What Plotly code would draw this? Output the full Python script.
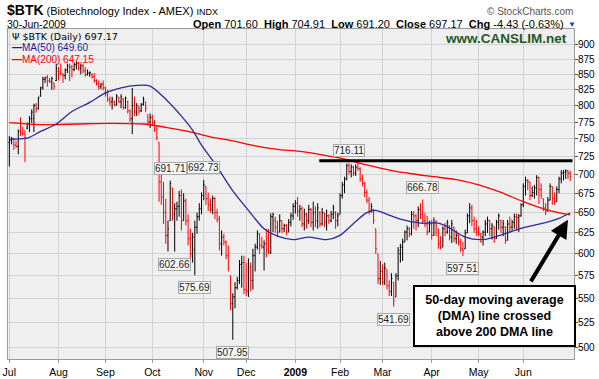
import math
import plotly.graph_objects as go

# ---------------- data ----------------
month_labels = ['Jul', 'Aug', 'Sep', 'Oct', 'Nov', 'Dec', '<b>2009</b>', 'Feb', 'Mar', 'Apr', 'May', 'Jun']
month_start_idx = [0, 22, 43, 64, 87, 106, 128, 148, 167, 189, 210, 230]
price_ticks = [500, 525, 550, 575, 600, 625, 650, 675, 700, 725, 750, 775, 800, 825, 850, 875, 900]

opens = [
    # Jul 2008
    745, 748, 750, 741, 739, 761, 758, 757, 766, 772, 780, 780, 800, 795, 815, 828, 842, 845, 840, 838, 836, 840,
    # Aug
    855, 852, 850, 848, 857, 864, 862, 858, 866, 868, 860, 864, 856, 850, 852, 850, 846, 840, 834, 830, 834,
    # Sep
    828, 818, 810, 806, 806, 801, 812, 806, 810, 797, 806, 792, 780, 800, 790, 796, 792, 802, 806, 786, 775,
    # Oct
    782, 774, 764, 745, 690, 670, 650, 622, 640, 682, 648, 655, 658, 672, 640, 665, 640, 618, 600, 605, 632, 645, 655,
    # Nov
    672, 684, 668, 660, 654, 668, 650, 642, 612, 620, 614, 598, 575, 545, 552, 562, 570, 588, 590,
    # Dec
    560, 558, 585, 570, 598, 608, 624, 610, 608, 612, 620, 602, 645, 640, 632, 626, 640, 630, 634, 626, 638, 646,
    # Jan 2009
    658, 662, 652, 655, 636, 648, 640, 654, 638, 650, 640, 650, 636, 650, 638, 646, 640, 648, 650, 640,
    # Feb
    648, 672, 686, 694, 712, 704, 710, 702, 710, 708, 694, 688, 676, 666, 652, 654, 630, 600, 572,
    # Mar
    580, 568, 582, 564, 558, 568, 552, 575, 600, 608, 614, 626, 630, 624, 648, 646, 640, 654, 648, 640, 636, 626,
    # Apr
    636, 622, 638, 630, 612, 608, 630, 626, 634, 620, 632, 618, 622, 614, 606, 606, 625, 646, 656, 640, 630,
    # May
    626, 624, 620, 626, 636, 640, 630, 632, 618, 638, 640, 632, 632, 616, 636, 632, 638, 645, 644, 646,
    # Jun
    660, 684, 692, 690, 672, 676, 682, 696, 680, 668, 656, 652, 666, 684, 668, 664, 680, 694, 702, 703, 705, 701.60,
]
highs = [
    754, 753, 751, 747, 764, 782, 768, 763, 774, 784, 794, 803, 804, 814, 830, 846, 846, 849, 844, 846, 836, 868,
    862, 868, 852, 860, 868, 868, 866, 870, 872, 871, 868, 868, 862, 858, 855, 852, 852, 842, 840, 836, 840,
    830, 825, 814, 814, 808, 818, 814, 818, 812, 814, 808, 794, 828, 814, 804, 800, 804, 814, 806, 786, 788,
    786, 778, 768, 745, 702, 690, 668, 640, 691.71, 682, 662, 664, 678, 680, 675, 668, 648, 630, 625, 640, 650, 662, 676,
    692.73, 684, 676, 668, 672, 670, 655, 646, 628, 624, 616, 610, 575, 556, 568, 574, 593, 598, 598,
    590, 595, 590, 606, 612, 628, 624, 620, 616, 630, 630, 649, 650, 645, 640, 648, 640, 636, 636, 642, 650, 662,
    666, 670, 660, 658, 655, 650, 660, 656, 664, 658, 662, 652, 656, 650, 654, 648, 652, 660, 652, 650,
    675, 690, 697, 715, 716.11, 714, 712, 714, 716, 710, 700, 690, 680, 670, 662, 655, 630, 600, 592,
    588, 590, 582, 570, 578, 568, 578, 608, 612, 618, 628, 634, 632, 652, 652, 648, 658, 662, 666.78, 650, 646, 640,
    641, 644, 641, 630, 621, 633, 637, 641, 634, 641, 632, 628, 625, 618, 614, 629, 649, 662, 660, 645, 641,
    633, 625, 628, 641, 645, 641, 637, 633, 641, 649, 641, 641, 633, 641, 645, 641, 649, 649, 648, 662,
    688, 697, 694, 690, 684, 686, 699, 697, 688, 668, 662, 670, 688, 684, 676, 684, 697, 706, 706, 707, 706, 704.91,
]
lows = [
    711, 742, 734, 737, 728, 754, 755, 717, 764, 760, 774, 760, 789, 794, 814, 825, 836, 830, 836, 825, 825, 839,
    840, 848, 836, 842, 852, 839, 845, 855, 858, 856, 850, 852, 846, 848, 846, 843, 836, 832, 825, 826, 824,
    814, 806, 800, 794, 799, 800, 804, 796, 794, 795, 788, 775, 757, 784, 784, 786, 790, 800, 790, 770, 766,
    770, 760, 748, 664, 660, 636, 612, 603, 640, 640, 602.66, 640, 645, 628, 640, 634, 610, 594, 590, 575.69, 624, 640, 648,
    666, 660, 652, 650, 648, 642, 638, 604, 598, 610, 594, 580, 538, 507.95, 540, 560, 566, 562, 555,
    553, 552, 558, 560, 580, 605, 600, 606, 581, 596, 600, 600, 626, 625, 620, 626, 625, 626, 622, 626, 633, 641,
    649, 645, 640, 632, 628, 630, 636, 632, 628, 632, 630, 632, 634, 632, 628, 636, 638, 642, 630, 633,
    648, 668, 675, 692, 700, 696, 698, 698, 705, 690, 684, 670, 662, 648, 650, 636, 600, 566, 565,
    565, 565, 560, 553, 553, 541.69, 552, 570, 590, 592, 614, 616, 620, 622, 630, 628, 632, 642, 636, 632, 622, 626,
    617, 622, 621, 606, 605, 608, 621, 624, 616, 613, 614, 612, 610, 602, 597.51, 606, 625, 637, 633, 625, 621,
    621, 613, 610, 621, 625, 621, 617, 613, 618, 629, 625, 621, 612, 616, 625, 628, 630, 628, 626, 645,
    657, 672, 679, 666, 670, 668, 672, 661, 668, 652, 647, 652, 666, 660, 660, 664, 675, 688, 692, 694, 694, 691.20,
]
closes = [
    748, 750, 741, 739, 761, 758, 757, 752, 772, 780, 790, 800, 795, 812, 828, 842, 845, 840, 838, 843, 830, 860,
    855, 852, 848, 857, 864, 862, 858, 866, 868, 860, 864, 856, 850, 852, 853, 846, 840, 834, 830, 834, 828,
    818, 810, 806, 810, 801, 815, 806, 814, 797, 812, 792, 780, 800, 790, 800, 792, 802, 810, 796, 775, 782,
    774, 764, 752, 690, 670, 650, 622, 630, 688, 648, 655, 658, 672, 640, 665, 640, 618, 600, 620, 632, 645, 655, 672,
    686, 668, 660, 654, 668, 650, 642, 612, 620, 614, 598, 585, 545, 552, 562, 570, 588, 590, 560,
    558, 585, 570, 598, 608, 624, 610, 608, 612, 605, 602, 645, 648, 632, 626, 640, 630, 634, 626, 638, 646, 658,
    662, 652, 655, 636, 648, 640, 654, 638, 650, 640, 656, 636, 650, 638, 646, 640, 648, 656, 640, 646,
    672, 686, 694, 712, 704, 710, 702, 710, 708, 694, 688, 676, 666, 652, 658, 640, 606, 572, 580,
    568, 584, 564, 558, 572, 548, 575, 604, 608, 614, 626, 630, 624, 648, 646, 640, 654, 648, 640, 636, 626, 636,
    622, 638, 634, 612, 608, 630, 626, 638, 620, 636, 618, 622, 614, 606, 604, 625, 646, 656, 640, 630, 626,
    624, 620, 626, 636, 640, 630, 634, 618, 638, 646, 632, 636, 616, 636, 632, 638, 645, 644, 646, 660,
    684, 692, 690, 672, 676, 682, 696, 680, 672, 656, 652, 666, 684, 668, 664, 680, 694, 702, 703, 705, 701.60, 697.17,
]

ma50_idx = [0, 8, 14, 21, 28, 36, 43, 50, 57, 63, 70, 77, 82, 86, 92, 100, 107, 114, 120, 127, 134, 142,
            148, 155, 160, 164, 169, 175, 184, 192, 197, 204, 212, 217, 224, 231, 239, 246, 251]
ma50_val = [750, 751, 761, 772, 791, 805, 820, 828, 832, 831, 810, 784, 763, 741, 715, 678, 653, 630, 621, 617, 620, 617,
            622, 639, 650, 653, 648, 642, 637, 637, 631, 620, 617, 620, 626, 632, 637, 643, 649.60]
ma200_idx = [0, 15, 30, 45, 60, 70, 80, 90, 100, 110, 120, 130, 140, 150, 160, 170, 180, 190, 200, 210, 220, 230, 240, 251]
ma200_val = [774, 771, 772, 773, 772, 767, 761, 753, 747, 740, 735, 732, 727, 721, 713, 706, 701, 697, 693, 686, 676, 664, 654, 647.15]

resistance_level = 719
resistance_from_idx = 138.7

value_labels = [  # (trading-day index, value, where)
    (72, 691.71, 'high'), (87, 692.73, 'high'), (74, 602.66, 'low'), (83, 575.69, 'low'),
    (100, 507.95, 'low'), (152, 716.11, 'high'), (172, 541.69, 'low'), (185, 666.78, 'high'),
    (203, 597.51, 'low'),
]

# ---------------- figure ----------------
FONT = 'Liberation Sans, Arial, sans-serif'
W, H = 599, 379
PL, PR, PT, PB = 8, 574, 29, 359


def px(x):
    return (x - PL) / (PR - PL)


def py(y):
    return (PB - y) / (PB - PT)


n = len(closes)
up, dn = [], []
for i in range(n):
    prev = closes[i - 1] if i > 0 else opens[i]
    (up if closes[i] >= prev else dn).append(i)

fig = go.Figure()
for idxs, col in ((up, '#000000'), (dn, '#ff0000')):
    fig.add_trace(go.Ohlc(
        x=idxs,
        open=[opens[i] for i in idxs], high=[highs[i] for i in idxs],
        low=[lows[i] for i in idxs], close=[closes[i] for i in idxs],
        increasing=dict(line=dict(color=col, width=1)),
        decreasing=dict(line=dict(color=col, width=1)),
        tickwidth=0.45, hoverinfo='skip', showlegend=False,
    ))

fig.add_trace(go.Scatter(x=ma200_idx, y=ma200_val, mode='lines',
                         line=dict(color='#ff0000', width=1.3, shape='spline', smoothing=0.8),
                         hoverinfo='skip', showlegend=False))
fig.add_trace(go.Scatter(x=ma50_idx, y=ma50_val, mode='lines',
                         line=dict(color='#2b2b9a', width=1.3, shape='spline', smoothing=0.8),
                         hoverinfo='skip', showlegend=False))
fig.add_trace(go.Scatter(x=[resistance_from_idx, 252], y=[resistance_level, resistance_level], mode='lines',
                         line=dict(color='#000000', width=3), hoverinfo='skip', showlegend=False))

ann = []
for i, v, where in value_labels:
    ann.append(dict(x=i, y=math.log10(v), xref='x', yref='y', text=f'{v:.2f}', showarrow=False,
                    font=dict(family=FONT, size=10, color='#222222'),
                    bgcolor='#f6f6f6', bordercolor='#a8a8a8', borderwidth=1, borderpad=0,
                    yanchor='bottom' if where == 'high' else 'top',
                    yshift=6 if where == 'high' else -6))

# right-hand price labels (placed just outside the plot frame)
for t in price_ticks:
    ann.append(dict(x=px(576), y=math.log10(t), xref='paper', yref='y', xanchor='left', yanchor='middle',
                    text=str(t), showarrow=False, font=dict(family=FONT, size=10, color='#000')))

# header texts
ann += [
    dict(x=px(5), y=py(10.5), xref='paper', yref='paper', xanchor='left', yanchor='middle', showarrow=False,
         text='<span style="font-size:14px"><b>$BTK</b></span> (Biotechnology Index - AMEX) '
              '<span style="font-size:9px">INDX</span>',
         font=dict(family=FONT, size=11, color='#000')),
    dict(x=px(5), y=py(24.5), xref='paper', yref='paper', xanchor='left', yanchor='middle', showarrow=False,
         text='30-Jun-2009', font=dict(family=FONT, size=10.5, color='#000')),
    dict(x=px(566), y=py(24.5), xref='paper', yref='paper', xanchor='right', yanchor='middle', showarrow=False,
         text='<b>Open</b> 701.60  <b>High</b> 704.91  <b>Low</b> 691.20  <b>Close</b> 697.17  <b>Chg</b> -4.43 (-0.63%)',
         font=dict(family=FONT, size=11, color='#000')),
    dict(x=px(566), y=py(24.5), xref='paper', yref='paper', xanchor='left', yanchor='middle', showarrow=False,
         text='▼', font=dict(family=FONT, size=8, color='#1f3fd0')),
    dict(x=px(575), y=py(11), xref='paper', yref='paper', xanchor='right', yanchor='middle', showarrow=False,
         text='© StockCharts.com', font=dict(family=FONT, size=10, color='#555')),
    dict(x=px(569), y=py(39), xref='paper', yref='paper', xanchor='right', yanchor='middle', showarrow=False,
         text='<b>www.CANSLIM.net</b>', font=dict(family=FONT, size=13.5, color='#1d5a1d')),
    # legend
    dict(x=px(10), y=py(36.5), xref='paper', yref='paper', xanchor='left', yanchor='middle', showarrow=False,
         text='Ψ $BTK (Daily) 697.17', font=dict(family='DejaVu Sans, Verdana, sans-serif', size=9.5, color='#000')),
    dict(x=px(10), y=py(47.5), xref='paper', yref='paper', xanchor='left', yanchor='middle', showarrow=False,
         text='<b>—</b>MA(50) 649.60', font=dict(family=FONT, size=10, color='#1a1a9c')),
    dict(x=px(10), y=py(59), xref='paper', yref='paper', xanchor='left', yanchor='middle', showarrow=False,
         text='<b>—</b>MA(200) 647.15', font=dict(family=FONT, size=10, color='#ff0000')),
    # callout box
    dict(x=px(494.5), y=py(316), xref='paper', yref='paper', xanchor='center', yanchor='middle', showarrow=False,
         text='<b>50-day moving average<br>(DMA) line crossed<br>above 200 DMA line</b>',
         font=dict(family=FONT, size=12.5, color='#000'),
         bgcolor='#ffffff', bordercolor='#000000', borderwidth=2, borderpad=2, width=155, height=54, align='center'),
    # arrow
    dict(x=250, y=math.log10(641), xref='x', yref='y', text='', showarrow=True,
         ax=-38, ay=63, arrowhead=2, arrowsize=0.9, arrowwidth=4, arrowcolor='#000000'),
]

fig.update_layout(
    width=W, height=H,
    margin=dict(l=PL, r=W - PR, t=PT, b=H - PB, pad=0, autoexpand=False),
    paper_bgcolor='#ffffff', plot_bgcolor='#efefef',
    font=dict(family=FONT, size=10, color='#000'),
    showlegend=False,
    annotations=ann,
    xaxis=dict(type='linear', range=[-0.6, 252.7], tickmode='array', tickvals=month_start_idx, ticktext=month_labels,
               showgrid=True, gridcolor='#d2d2d2', gridwidth=1, zeroline=False, automargin=False,
               showline=True, mirror=True, linecolor='#9a9a9a', linewidth=1,
               ticks='outside', ticklen=3, tickcolor='#9a9a9a', tickfont=dict(size=10.5),
               rangeslider=dict(visible=False), fixedrange=True),
    yaxis=dict(type='log', range=[math.log10(489.4), math.log10(928.2)], side='right',
               tickmode='array', tickvals=price_ticks, showticklabels=False, automargin=False,
               showgrid=True, gridcolor='#d2d2d2', gridwidth=1, zeroline=False,
               showline=True, mirror=True, linecolor='#9a9a9a', linewidth=1,
               ticks='outside', ticklen=3, tickcolor='#555', fixedrange=True),
)

# remove the browser's default 8px page margin so the 599x379 figure fills the window exactly
fig.write_html('out.html', config={'displayModeBar': False},
               post_script="document.body.style.margin='0';")
